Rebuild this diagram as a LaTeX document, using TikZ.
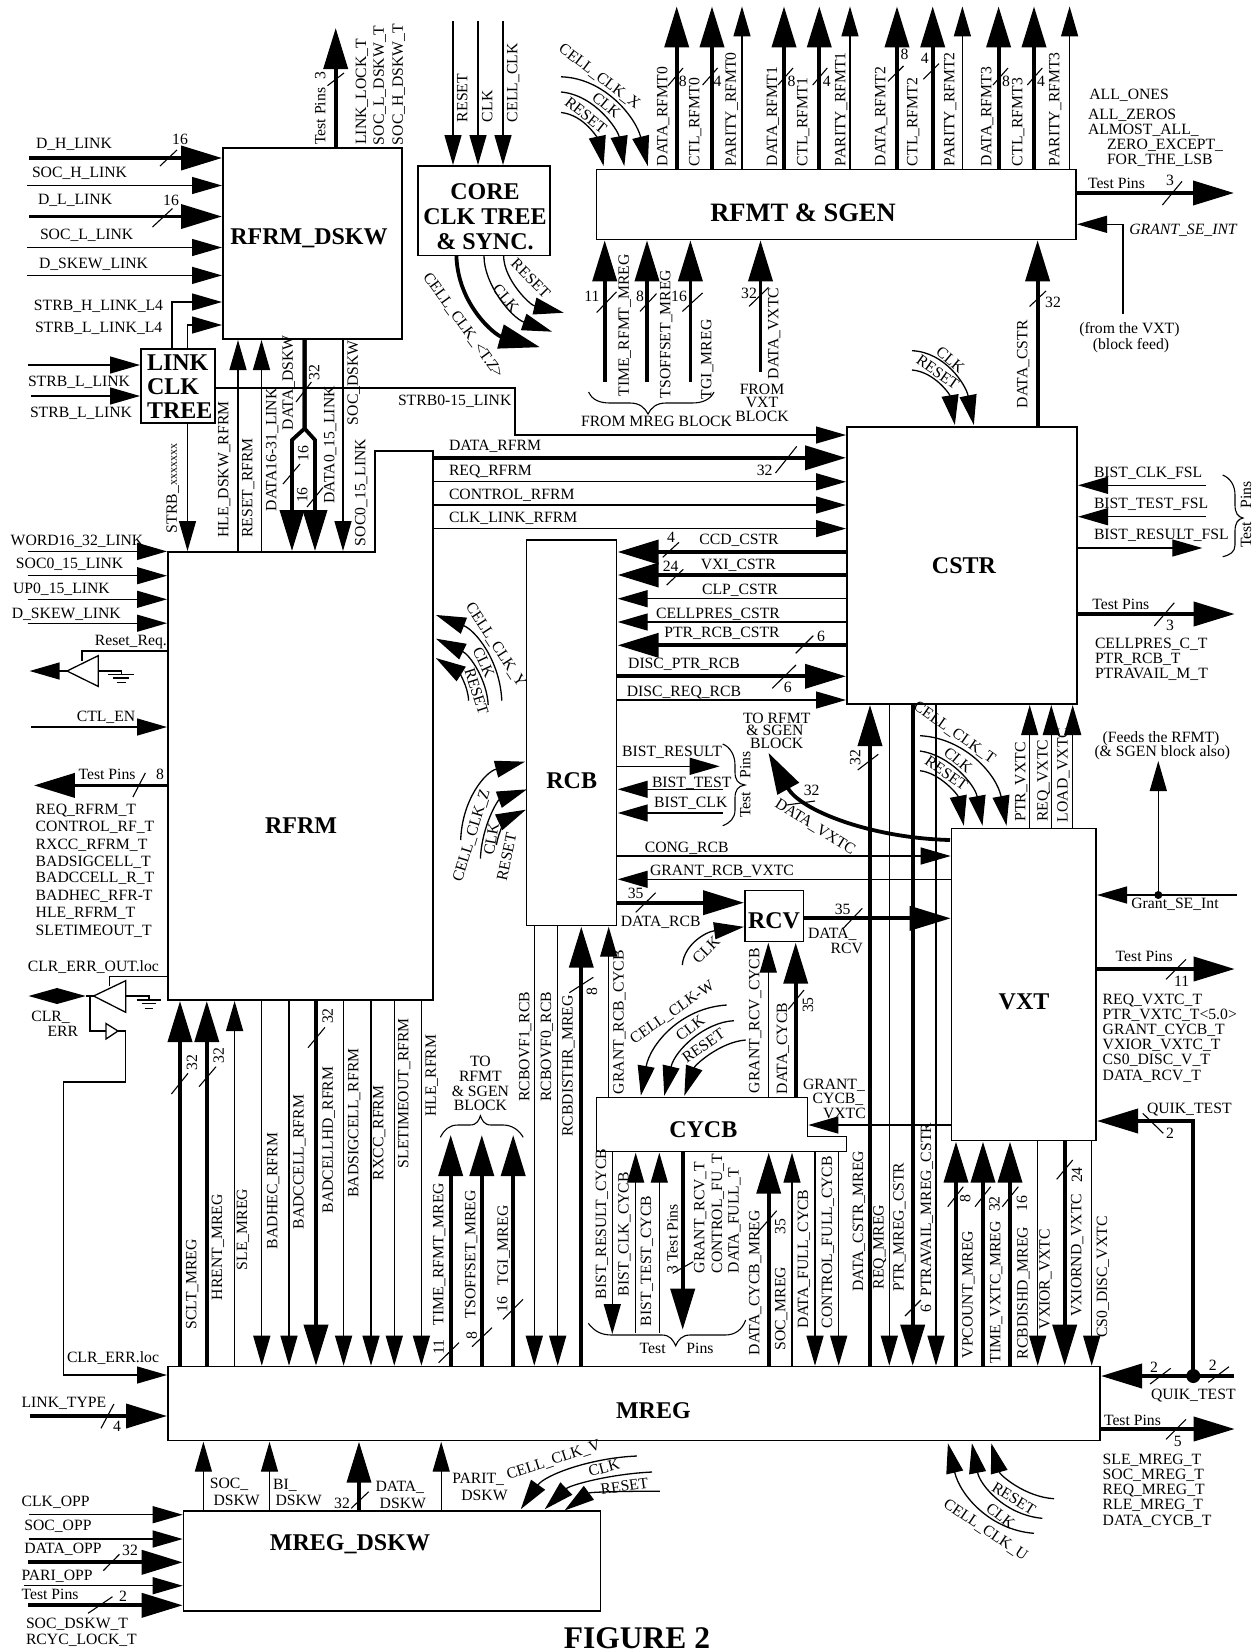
\documentclass[tikz,border=0pt]{standalone}
\usepackage{fontspec}
\setmainfont{Liberation Serif}
\usetikzlibrary{arrows.meta,fit}
\newcounter{tn}
\tikzset{
  x=1pt,y=-1pt,
  lbl/.style={font=\fontsize{15.7}{16}\selectfont,inner sep=0pt,outer sep=0pt},
  ttlb/.style={font=\fontsize{24}{24}\selectfont\bfseries,inner sep=0pt,outer sep=0pt},
  blockbox/.style={draw=black,fill=white,line width=1.4pt,inner sep=0pt,outer sep=0pt},
  ghost/.style={inner sep=0pt,outer sep=0pt},
  sig/.style={line width=1.3pt,-{Triangle[length=30pt,width=17pt]},shorten >=1pt},
  bus/.style={line width=3.8pt,-{Triangle[length=41pt,width=24pt]},shorten >=1pt},
  sigline/.style={line width=1.3pt},
  busline/.style={line width=3.8pt},
  tick/.style={line width=1.1pt},
  logic/.style={draw=black,fill=white,line width=1.3pt},
}
\newcommand\dn[1]{\raisebox{-3.1pt}{#1}}
\newcommand\dnb[1]{\raisebox{-5.8pt}{#1}}
\newcommand\lbL[3]{\stepcounter{tn}\node[lbl,anchor=mid west] (t\arabic{tn}) at (#1,#2) {\dn{#3}};}
\newcommand\lbRt[3]{\stepcounter{tn}\node[lbl,anchor=mid east] (t\arabic{tn}) at (#1,#2) {\dn{#3}};}
\newcommand\lbC[3]{\stepcounter{tn}\node[lbl,anchor=mid] (t\arabic{tn}) at (#1,#2) {\dn{#3}};}
\newcommand\lbV[3]{\stepcounter{tn}\node[lbl,rotate=90,anchor=mid west] (t\arabic{tn}) at (#1,#2) {\dn{#3}};}
\newcommand\lbR[4]{\stepcounter{tn}\node[lbl,rotate=#3,anchor=mid] (t\arabic{tn}) at (#1,#2) {\dn{#4}};}
\newcommand\ttl[3]{\stepcounter{tn}\node[ttlb,anchor=mid] (t\arabic{tn}) at (#1,#2) {\dnb{#3}};}
\newcommand\blk[5]{\node[blockbox,fit={(#2,#3)(#4,#5)}] (#1) {};}
% vertical / horizontal connectors between blocks, or from / to a named free end
\newcommand\vcon[4]{\draw[#1] (#2,0 |- #3) -- (#2,0 |- #4);}
\newcommand\vin[4]{\stepcounter{tn}\coordinate (f\arabic{tn}) at (#2,#3);\draw[#1] (f\arabic{tn}) -- (#2,0 |- #4);}
\newcommand\vout[4]{\stepcounter{tn}\coordinate (f\arabic{tn}) at (#2,#4);\draw[#1] (#2,0 |- #3) -- (f\arabic{tn});}
\newcommand\hcon[4]{\draw[#1] (#3 |- 0,#2) -- (#4 |- 0,#2);}
\newcommand\hin[4]{\stepcounter{tn}\coordinate (f\arabic{tn}) at (#3,#2);\draw[#1] (f\arabic{tn}) -- (#4 |- 0,#2);}
\newcommand\hout[4]{\stepcounter{tn}\coordinate (f\arabic{tn}) at (#4,#2);\draw[#1] (#3 |- 0,#2) -- (f\arabic{tn});}
\newcommand\arcc[5]{\stepcounter{tn}\coordinate (a\arabic{tn}) at (#2);\coordinate (b\arabic{tn}) at (#5);\draw[#1] (a\arabic{tn}) .. controls (#3) and (#4) .. (b\arabic{tn});}
\newcommand\tk[2]{\draw[tick] (#1) -- (#2);}
\begin{document}
\begin{tikzpicture}
\useasboundingbox (0,0) rectangle (1258,1650);
\fill[white] (0,0) rectangle (1258,1650);

%% ---------- blocks ----------
\blk{dskw}{223}{148}{402}{339}
\blk{tree}{141}{349}{215}{423}
\blk{core}{418}{166}{550}{255.4}
\blk{rfmt}{596.7}{169.6}{1076}{239.3}
\blk{cstr}{847}{427}{1077}{704}
\blk{rcb}{526.7}{540}{616.7}{925.7}
\blk{rcv}{745}{890.7}{803.5}{941.7}
\blk{vxt}{951.7}{828.3}{1096}{1140.7}
\blk{mreg}{168}{1366.7}{1100}{1440.7}
\blk{mdskw}{183.7}{1511}{600.6}{1611}
\node[ghost,fit={(168,451)(433,1000)}] (rfrm) {};
\draw[blockbox] (168,552) -- (375,552) -- (375,451) -- (433,451) -- (433,1000) -- (168,1000) -- cycle;
\coordinate (rfrmN) at (168,552);
\node[ghost,fit={(596.7,1097.3)(846.7,1151.7)}] (cycb) {};
\draw[blockbox] (596.7,1097.3) -- (807.3,1097.3) -- (807.3,1136.7) -- (846.7,1136.7) -- (846.7,1151.7) -- (596.7,1151.7) -- cycle;
\coordinate (cycbS) at (807.3,1125);

\ttl{309}{236}{RFRM\_DSKW}
\ttl{485}{191}{CORE}
\ttl{485}{216}{CLK TREE}
\ttl{485}{241}{\& SYNC.}
\stepcounter{tn}\node[ttlb,font=\fontsize{26.5}{26}\selectfont\bfseries,anchor=mid] (t\arabic{tn}) at (803,212.5) {\raisebox{-6.5pt}{RFMT \& SGEN}};
\ttl{964}{565}{CSTR}
\ttl{301}{825}{RFRM}
\ttl{571.7}{780}{RCB}
\ttl{774}{920}{RCV}
\ttl{1024}{1001.7}{VXT}
\ttl{703.3}{1129}{CYCB}
\ttl{653.4}{1410}{MREG}
\ttl{350}{1542.7}{MREG\_DSKW}
\stepcounter{tn}\node[ttlb,anchor=mid west] (t\arabic{tn}) at (147,362.5) {\dnb{LINK}};
\stepcounter{tn}\node[ttlb,anchor=mid west] (t\arabic{tn}) at (147,386) {\dnb{CLK}};
\stepcounter{tn}\node[ttlb,anchor=mid west] (t\arabic{tn}) at (147,410) {\dnb{TREE}};
\stepcounter{tn}\node[ttlb,font=\fontsize{31.5}{30}\selectfont\bfseries,anchor=base] (t\arabic{tn}) at (637,1648.5) {FIGURE 2};

%% ---------- RFRM_DSKW inputs ----------
\hin{bus}{158}{29}{dskw.west}
\hin{sig}{185.5}{27}{dskw.west}
\hin{bus}{216.5}{29}{dskw.west}
\hin{sig}{247.5}{27}{dskw.west}
\hin{sig}{275.4}{27}{dskw.west}
\lbL{36}{143}{D\_H\_LINK}
\lbC{180}{139}{16}
\tk{160,166}{177,150}
\lbL{32}{172}{SOC\_H\_LINK}
\lbL{38}{199}{D\_L\_LINK}
\lbC{171}{200}{16}
\tk{152.5,227}{172.5,208.5}
\lbL{40}{234}{SOC\_L\_LINK}
\lbL{39}{263.5}{D\_SKEW\_LINK}
\lbL{34}{304.6}{STRB\_H\_LINK\_L4}
\lbL{35}{327}{STRB\_L\_LINK\_L4}
\draw[sig] (172,0 |- tree.north) -- (172,302) -- (dskw.west |- 0,302);
\draw[sig] (187.5,0 |- tree.north) -- (187.5,325) -- (dskw.west |- 0,325);
\hin{sig}{365}{28}{tree.west}
\hin{sig}{396}{31}{tree.west}
\lbL{28}{381}{STRB\_L\_LINK}
\lbL{30}{412}{STRB\_L\_LINK}
\draw[sig] (tree.east |- 0,388) -- (515,388) -- (515,435) -- (cstr.west |- 0,435);
\lbL{398}{400}{STRB0-15\_LINK}
\vcon{sig}{187.5}{tree.south}{rfrmN}

%% ---------- RFRM_DSKW <-> RFRM ----------
\vcon{sig}{238}{rfrmN}{dskw.south}
\vcon{sig}{261.5}{rfrmN}{dskw.south}
\draw[bus] (304.6,0 |- dskw.south) -- (304.6,428.5) -- (292,440) -- (292,0 |- rfrmN);
\draw[bus] (304.6,0 |- dskw.south) -- (304.6,428.5) -- (315,440) -- (315,0 |- rfrmN);
\vcon{sig}{343}{dskw.south}{rfrmN}
\tk{296,402}{311.4,382}
\lbR{314}{372.5}{90}{32}
\lbR{303}{453.6}{90}{16}
\tk{283,484}{300,464}
\lbR{302}{495}{90}{16}
\tk{307,507}{323,487.5}
\lbV{171.4}{533}{STRB\_{\fontsize{12}{12}\selectfont xxxxxxx}}
\lbV{223}{537.5}{HLE\_DSKW\_RFRM}
\lbV{247}{537.5}{RESET\_RFRM}
\lbV{271}{511}{DATA16-31\_LINK}
\lbV{287.5}{430}{DATA\_DSKW}
\lbV{329}{503.6}{DATA0\_15\_LINK}
\lbV{352.5}{425}{SOC\_DSKW}
\lbV{360}{546}{SOC0\_15\_LINK}

%% ---------- top of RFRM_DSKW ----------
\vout{bus}{335.7}{dskw.north}{27}
\tk{327.5,85.7}{344,73}
\lbV{320}{144.6}{Test Pins\ \ 3}
\lbV{360.7}{144.6}{LINK\_LOCK\_T}
\lbV{378.6}{145}{SOC\_L\_DSKW\_T}
\lbV{397.5}{145}{SOC\_H\_DSKW\_T}

%% ---------- CORE CLK TREE ----------
\vin{sig}{453}{21}{core.north}
\vin{sig}{478}{21}{core.north}
\vin{sig}{503}{21}{core.north}
\lbV{462}{122}{RESET}
\lbV{487}{122}{CLK}
\lbV{512}{122}{CELL\_CLK}
\arcc{bus}{456.4,256}{458,305}{495,335}{541,347.5}
\arcc{sig}{484,256}{484,285}{512,318}{553,332}
\arcc{sig}{503.6,256}{504,280}{530,305}{564.7,313}
\lbR{464}{325}{-54}{CELL\_CLK\_<T.Z>}
\lbR{506}{298}{-50}{CLK}
\lbR{531}{278}{-45}{RESET}

%% ---------- RFMT outputs ----------
\vout{bus}{676.7}{rfmt.north}{5.4}
\vout{bus}{712}{rfmt.north}{5.4}
\vout{sig}{742}{rfmt.north}{5.4}
\vout{bus}{784}{rfmt.north}{5.4}
\vout{bus}{819.3}{rfmt.north}{5.4}
\vout{sig}{850}{rfmt.north}{5.4}
\vout{bus}{897}{rfmt.north}{5.4}
\vout{bus}{932.7}{rfmt.north}{5.4}
\vout{sig}{962.4}{rfmt.north}{5.4}
\vout{bus}{998.6}{rfmt.north}{5.4}
\vout{bus}{1034}{rfmt.north}{5.4}
\vout{sig}{1069.6}{rfmt.north}{5.4}
\lbV{662}{166}{DATA\_RFMT0}
\lbV{694}{166}{CTL\_RFMT0}
\lbV{730.4}{166}{PARITY\_RFMT0}
\lbV{771.8}{166}{DATA\_RFMT1}
\lbV{802}{166}{CTL\_RFMT1}
\lbV{840}{166}{PARITY\_RFMT1}
\lbV{880}{166}{DATA\_RFMT2}
\lbV{912}{166}{CTL\_RFMT2}
\lbV{949}{166}{PARITY\_RFMT2}
\lbV{986}{166}{DATA\_RFMT3}
\lbV{1017}{166}{CTL\_RFMT3}
\lbV{1054}{166}{PARITY\_RFMT3}
\lbC{682.8}{80.7}{8} \tk{668,85.7}{683,68}
\lbC{717.6}{80.7}{4} \tk{702.6,85}{717.6,68}
\lbC{791.5}{80.7}{8} \tk{778,85}{793,68}
\lbC{826.8}{80.7}{4} \tk{812.7,85}{827.3,68}
\lbC{904.5}{54.6}{8} \tk{888,81.4}{903.5,66}
\lbC{924.7}{58}{4} \tk{923.3,79.3}{939,63.6}
\lbC{1006}{80.7}{8} \tk{993,85}{1008,68}
\lbC{1041}{80.7}{4} \tk{1027.3,85}{1042.3,68}
\arcc{sig}{561,76.8}{605,78}{636,118}{648,167}
\arcc{sig}{561,92}{595,95}{618,130}{624.5,167}
\arcc{sig}{561,112.5}{585,115}{598,140}{603.8,167}
\lbR{600}{76}{-37}{CELL\_CLK\_X}
\lbR{606.6}{105}{-40}{CLK}
\lbR{586}{115}{-38}{RESET}

%% ---------- RFMT inputs ----------
\vin{bus}{604.7}{382}{rfmt.south}
\vin{bus}{647}{382}{rfmt.south}
\vin{bus}{690.4}{382}{rfmt.south}
\vin{bus}{760.5}{372}{rfmt.south}
\lbV{623.5}{396.4}{TIME\_RFMT\_MREG}
\lbV{665}{398}{TSOFFSET\_MREG}
\lbV{706}{399}{TGI\_MREG}
\lbV{773}{379}{DATA\_VXTC}
\lbC{592}{296}{11} \tk{596.7,312.5}{616.5,291.8}
\lbC{640}{296}{8} \tk{640,311.4}{656.5,293.6}
\lbC{679}{296}{16} \tk{682.4,311.4}{702.6,292.9}
\lbC{749}{293}{32} \tk{749,306.4}{768.5,287.5}
\lbC{762}{388.6}{FROM}
\lbC{762}{402.5}{VXT}
\lbC{762}{416}{BLOCK}
\lbC{656.5}{421.4}{FROM MREG BLOCK}
\draw[tick] (588.7,392) .. controls (592,400) and (600,403) .. (610,403) -- (630,403) .. controls (640,403) and (645,408) .. (648,414) .. controls (651,408) and (656,403) .. (666,403) -- (692,403) .. controls (702,403) and (710,400) .. (714,392);
\vcon{bus}{1037.6}{cstr.north}{rfmt.south}
\lbV{1022}{408}{DATA\_CSTR}
\lbC{1053}{302}{32} \tk{1029.6,306.4}{1046,291}

%% ---------- RFMT right ----------
\hout{bus}{193}{rfmt.east}{1235}
\lbL{1088}{183}{Test Pins}
\lbC{1170}{180}{3} \tk{1162.4,205}{1182,181.4}
\stepcounter{tn}\coordinate (f\arabic{tn}) at (1123,314);
\draw[sig] (f\arabic{tn}) -- (1123,224.3) -- (rfmt.east |- 0,224.3);
\lbL{1129.4}{229}{\itshape GRANT\_SE\_INT}
\lbC{1129.4}{328}{(from the VXT)}
\lbC{1131}{344}{(block feed)}
\lbL{1089.4}{94}{ALL\_ONES}
\lbL{1088}{114}{ALL\_ZEROS}
\lbL{1088}{129.6}{ALMOST\_ALL\_}
\lbL{1107}{144.6}{ZERO\_EXCEPT\_}
\lbL{1107}{159}{FOR\_THE\_LSB}

%% ---------- CSTR ----------
\arcc{sig}{912,350.7}{945,352}{966,385}{974,426}
\arcc{sig}{912,370}{935,372}{950,395}{955,426}
\lbR{950.6}{359.6}{-40}{CLK}
\lbR{938}{372}{-35}{RESET}
\hcon{bus}{457.8}{rfrm.east}{cstr.west}
\hcon{sig}{481.8}{rfrm.east}{cstr.west}
\hcon{sig}{505}{rfrm.east}{cstr.west}
\hcon{sig}{528.6}{rfrm.east}{cstr.west}
\lbL{449}{445}{DATA\_RFRM}
\lbL{449}{470}{REQ\_RFRM}
\lbL{449}{494}{CONTROL\_RFRM}
\lbL{449}{516.8}{CLK\_LINK\_RFRM}
\lbC{764.7}{469.6}{32} \tk{775.5,473}{796.7,446.4}

\hcon{bus}{552}{cstr.west}{rcb.east}
\hcon{bus}{575}{cstr.west}{rcb.east}
\hcon{sig}{598.7}{cstr.west}{rcb.east}
\hcon{sig}{622}{cstr.west}{rcb.east}
\hcon{bus}{645.3}{cstr.west}{rcb.east}
\hcon{bus}{676.3}{rcb.east}{cstr.west}
\hcon{sig}{700}{rcb.east}{cstr.west}
\lbC{739}{539}{CCD\_CSTR}
\lbC{671}{537.3}{4} \tk{662.7,557.3}{679,542.3}
\lbC{738.3}{564}{VXI\_CSTR}
\lbC{670.7}{566}{24} \tk{666.7,585}{683.3,569.3}
\lbC{740}{589}{CLP\_CSTR}
\lbC{718}{612.7}{CELLPRES\_CSTR}
\lbC{722}{632}{PTR\_RCB\_CSTR}
\lbC{821}{636}{6} \tk{795.7,653.3}{813.3,635.7}
\lbC{684}{662.7}{DISC\_PTR\_RCB}
\lbC{787.7}{686.7}{6} \tk{772.3,688.3}{796,665}
\lbC{684}{691}{DISC\_REQ\_RCB}

\hin{sig}{485.3}{1206}{cstr.east}
\hin{sig}{516.7}{1206}{cstr.east}
\hout{sig}{548}{cstr.east}{1203.3}
\lbL{1094}{472.3}{BIST\_CLK\_FSL}
\lbL{1094}{502.7}{BIST\_TEST\_FSL}
\lbL{1094}{534}{BIST\_RESULT\_FSL}
\draw[tick] (1222.7,475) .. controls (1230,478) and (1235,485) .. (1235,495) -- (1235,505) .. controls (1235,513) and (1238,517) .. (1243,518) .. controls (1238,519) and (1235,523) .. (1235,531) -- (1235,545) .. controls (1235,552) and (1230,555) .. (1222.7,556.7);
\lbR{1245.7}{495}{90}{Pins}
\lbR{1245.7}{535}{90}{Test}
\hout{bus}{614}{cstr.east}{1235.7}
\lbL{1092.3}{604}{Test Pins}
\lbC{1170}{625}{3} \tk{1154.3,626}{1174.3,602.7}
\lbL{1095}{642.7}{CELLPRES\_C\_T}
\lbL{1095}{657.7}{PTR\_RCB\_T}
\lbL{1095}{672.7}{PTRAVAIL\_M\_T}

%% ---------- RCB side ----------
\lbC{776.7}{717.7}{TO RFMT}
\lbC{775}{730}{\& SGEN}
\lbC{776.7}{742.7}{BLOCK}
\lbC{672}{750.7}{BIST\_RESULT}
\hout{sig}{766.3}{rcb.east}{720.7}
\lbC{691.7}{781.7}{BIST\_TEST}
\hin{sig}{789.3}{722.7}{rcb.east}
\lbC{690.7}{801.7}{BIST\_CLK}
\hin{sig}{813}{722.7}{rcb.east}
\draw[tick] (722.7,744) .. controls (730,747) and (735,755) .. (735,765) -- (735,772) .. controls (735,780) and (738,784) .. (745,785) .. controls (738,786) and (735,790) .. (735,798) -- (735,810) .. controls (735,818) and (730,823) .. (722.7,825.7);
\lbR{745}{765}{90}{Pins}
\lbR{745}{805}{90}{Test}
\arcc{bus}{950,840}{870,838}{800,810}{768,752}
\lbC{811.7}{790}{32} \tk{786.7,805}{815,801}
\lbR{815.7}{826}{-32}{DATA\_VXTC}
\hcon{sig}{856}{rcb.east}{vxt.west}
\lbC{686.7}{846.7}{CONG\_RCB}
\hcon{sig}{879.3}{vxt.west}{rcb.east}
\lbC{722}{870}{GRANT\_RCB\_VXTC}
\hcon{bus}{902.7}{rcb.east}{rcv.west}
\lbC{635.7}{892.7}{35} \tk{635.7,912.3}{655.7,892.7}
\lbC{660.7}{921}{DATA\_RCB}
\hcon{bus}{918.3}{rcv.east}{vxt.west}
\lbC{842.7}{909}{35} \tk{843.3,928.3}{862.3,908.3}
\lbL{808}{933}{DATA\_}
\lbC{846.7}{947.7}{RCV}
\arcc{sig}{682.3,965}{684,945}{705,932}{745,926.7}
\lbR{706}{950}{45}{CLK}

%% ---------- RFRM left ----------
\hin{sig}{551.4}{27.5}{rfrm.west}
\hin{sig}{575.7}{27.5}{rfrm.west}
\hin{sig}{599.3}{27.5}{rfrm.west}
\hin{sig}{623.2}{27.5}{rfrm.west}
\lbL{10.7}{539.6}{WORD16\_32\_LINK}
\lbL{16}{563}{SOC0\_15\_LINK}
\lbL{13}{587.9}{UP0\_15\_LINK}
\lbL{11.8}{612.9}{D\_SKEW\_LINK}
\lbRt{166.8}{639.6}{Reset\_Req.}
\draw[sigline] (rfrm.west |- 0,651) -- (82,651) -- (82,661.4);
\coordinate (bufA) at (67,671);
\coordinate (bufAout) at (28.6,671);
\draw[sig] (bufA) -- (bufAout);
\draw[logic] (bufA) -- (98.2,655.7) -- (98.2,686.4) -- cycle;
\draw[sigline] (98.2,671) -- (121.4,671) -- (121.4,674.6);
\draw[sigline] (108,674.6) -- (134,674.6);
\draw[sigline] (113,678) -- (128.6,678);
\draw[sigline] (116.8,682.5) -- (125.7,682.5);
\hin{sig}{727}{31}{rfrm.west}
\lbL{76.8}{715.7}{CTL\_EN}
\hout{bus}{785.4}{rfrm.west}{32.9}
\lbL{78.6}{774}{Test Pins}
\lbC{160}{773.6}{8} \tk{132.9,797}{145.4,772.9}
\lbL{35.7}{808.6}{REQ\_RFRM\_T}
\lbL{35.7}{826.4}{CONTROL\_RF\_T}
\lbL{35.7}{843.6}{RXCC\_RFRM\_T}
\lbL{35.7}{860.7}{BADSIGCELL\_T}
\lbL{35.7}{877.5}{BADCCELL\_R\_T}
\lbL{35.7}{895.4}{BADHEC\_RFR-T}
\lbL{35.7}{912.5}{HLE\_RFRM\_T}
\lbL{35.7}{929.6}{SLETIMEOUT\_T}

%% CLR_ERR logic
\lbL{27.9}{965.7}{CLR\_ERR\_OUT.loc}
\draw[sigline] (rfrm.west |- 0,976.7) -- (109.6,976.7) -- (109.6,985.7);
\coordinate (bufB) at (93.6,996);
\coordinate (clrpad) at (85.7,996);
\draw[sigline] (bufB) -- (clrpad);
\fill[black] (28.6,996) -- (57,988) -- (clrpad) -- (57,1004) -- cycle;
\draw[logic] (bufB) -- (125.7,980.7) -- (125.7,1012.3) -- cycle;
\draw[sigline] (125.7,996) -- (149,996) -- (149,1000);
\draw[sigline] (136.8,1000) -- (161.4,1000);
\draw[sigline] (142,1003.3) -- (156,1003.3);
\draw[sigline] (144.6,1008.3) -- (152.9,1008.3);
\draw[sigline] (90,996) -- (90,1031) -- (106,1031);
\draw[logic] (106,1023.5) -- (118,1031) -- (106,1039) -- cycle;
\draw[sig] (118,1031) -- (125.7,1031) -- (125.7,1082) -- (63.2,1082) -- (63.2,1375) -- (mreg.west |- 0,1375);
\lbL{31.4}{1015.7}{CLR\_}
\lbL{47.5}{1031}{ERR}
\lbL{67}{1356.7}{CLR\_ERR.loc}

%% ---------- RFRM right arcs ----------
\arcc{sig}{501.8,700.7}{500,660}{475,630}{435,614.6}
\arcc{sig}{488.2,705}{487,680}{470,655}{435,638.2}
\arcc{sig}{468.6,700.7}{468,685}{458,672}{435,657.5}
\lbR{496.4}{644.3}{-57}{CELL\_CLK\_Y}
\lbR{484}{662}{-65}{CLK}
\lbR{476.8}{691.4}{-72}{RESET}
\arcc{sig}{460.7,840}{462,800}{485,772}{526,761.4}
\arcc{sig}{480.4,858.6}{482,825}{498,800}{527.9,789}
\arcc{sig}{496.4,845}{498,832}{508,818}{526.8,809.3}
\lbR{470.7}{835.4}{73}{CELL\_CLK\_Z}
\lbR{491}{839}{80}{CLK}
\lbR{506.4}{856.8}{78}{RESET}

%% ---------- between MREG and RFRM ----------
\vcon{bus}{180}{mreg.north}{rfrm.south}
\vcon{bus}{206.8}{mreg.north}{rfrm.south}
\vcon{sig}{234.6}{mreg.north}{rfrm.south}
\vcon{sig}{261.8}{rfrm.south}{mreg.north}
\vcon{sig}{289}{rfrm.south}{mreg.north}
\vcon{bus}{316}{rfrm.south}{mreg.north}
\vcon{sig}{343.6}{rfrm.south}{mreg.north}
\vcon{sig}{371}{rfrm.south}{mreg.north}
\vcon{sig}{394.3}{rfrm.south}{mreg.north}
\vcon{sig}{421.4}{rfrm.south}{mreg.north}
\lbV{191}{1329.3}{SCLT\_MREG}
\lbR{191.8}{1062.7}{90}{32} \tk{171.4,1094}{188,1073.3}
\lbV{216.8}{1300}{HRENT\_MREG}
\lbR{218.6}{1055.7}{90}{32} \tk{199,1086.7}{216,1066.7}
\lbV{241.8}{1270}{SLE\_MREG}
\lbV{272}{1249}{BADHEC\_RFRM}
\lbV{298.2}{1229.3}{BADCCELL\_RFRM}
\lbV{327.5}{1213.3}{BADCELLHD\_RFRM}
\lbR{327.5}{1016}{90}{32} \tk{308,1047.7}{325,1027.3}
\lbV{352.9}{1197.7}{BADSIGCELL\_RFRM}
\lbV{377.9}{1180}{RXCC\_RFRM}
\lbV{402.9}{1168.3}{SLETIMEOUT\_RFRM}
\lbV{430.4}{1116.7}{HLE\_RFRM}

\vout{bus}{450.7}{mreg.north}{1134}
\vout{bus}{481.8}{mreg.north}{1134}
\vout{bus}{513.2}{mreg.north}{1134}
\lbV{438}{1325}{TIME\_RFMT\_MREG}
\lbR{438.6}{1347}{90}{11} \tk{438.6,1362.7}{459,1342.7}
\lbV{470}{1318.3}{TSOFFSET\_MREG}
\lbR{471.4}{1335.7}{90}{8} \tk{472,1346.7}{492,1327.7}
\lbV{502.5}{1285}{TGI\_MREG}
\lbR{502}{1304.3}{90}{16} \tk{503,1319.3}{523,1299.3}
\lbC{480.4}{1060.7}{TO}
\lbC{480.4}{1076}{RFMT}
\lbC{480.4}{1090.7}{\& SGEN}
\lbC{480.4}{1105}{BLOCK}
\draw[tick] (440.4,1137.3) .. controls (444,1130) and (449,1125) .. (458,1125) -- (470,1125) .. controls (477,1125) and (479,1120) .. (480.4,1115.7) .. controls (482,1120) and (484,1125) .. (491,1125) -- (503,1125) .. controls (512,1125) and (519,1130) .. (523.2,1137.3);

%% ---------- RCB / CYCB / MREG ----------
\vcon{sig}{534.3}{rcb.south}{mreg.north}
\vcon{sig}{557.7}{rcb.south}{mreg.north}
\vcon{bus}{581.3}{mreg.north}{rcb.south}
\vcon{sig}{608.7}{cycb.north}{rcb.south}
\lbV{524}{1101.7}{RCBOVF1\_RCB}
\lbV{545.7}{1101.7}{RCBOVF0\_RCB}
\lbV{567.3}{1136.7}{RCBDISTHR\_MREG}
\lbR{591.7}{991.7}{90}{8} \tk{569.3,992.7}{593.3,977.3}
\lbV{618.3}{1094}{GRANT\_RCB\_CYCB}
\vcon{sig}{768.3}{cycb.north}{rcv.south}
\vcon{bus}{795.7}{cycb.north}{rcv.south}
\lbV{754}{1093}{GRANT\_RCV\_CYCB}
\lbV{781.7}{1094}{DATA\_CYCB}
\lbR{807.7}{1005}{90}{35} \tk{788.3,1009.3}{804,990}
\arcc{sig}{726.7,1005}{680,1008}{650,1045}{640.7,1096.7}
\arcc{sig}{734,1020.7}{705,1022}{675,1050}{664,1096.7}
\arcc{sig}{745.7,1040}{720,1042}{695,1065}{684,1096.7}
\lbR{671.7}{1011.7}{35}{CELL\_CLK-W}
\lbR{690}{1028}{38}{CLK}
\lbR{703.3}{1045.7}{35}{RESET}
\hin{sigline}{1125}{951.7}{vxt.west}
\draw[sig] (vxt.west |- cycbS) -- (cycbS);
\lbL{803}{1084}{GRANT\_}
\lbL{812.7}{1098}{CYCB\_}
\lbL{823}{1113}{VXTC}

\vout{sig}{612.3}{cycb.south}{1335}
\vin{sig}{635.7}{1332.7}{cycb.south}
\vin{sig}{659.3}{1332.7}{cycb.south}
\vout{bus}{682.7}{cycb.south}{1330.7}
\tk{672.7,1273.3}{693.3,1261.7}
\lbV{600.7}{1299.3}{BIST\_RESULT\_CYCB}
\lbV{623.3}{1296}{BIST\_CLK\_CYCB}
\lbV{645.7}{1326}{BIST\_TEST\_CYCB}
\lbV{672.3}{1273.3}{3 Test Pins}
\lbV{699}{1273.3}{GRANT\_RCV\_T}
\lbV{716.7}{1273.3}{CONTROL\_FU\_T}
\lbV{733.3}{1273.3}{DATA\_FULL\_T}
\draw[tick] (588.3,1323.3) .. controls (595,1332) and (602,1335) .. (612,1335) -- (662,1335) .. controls (670,1335) and (673,1340) .. (675.7,1345.7) .. controls (678,1340) and (682,1335) .. (690,1335) -- (725,1335) .. controls (735,1335) and (742,1330) .. (745.7,1320);
\lbC{652.7}{1347.7}{Test}
\lbC{700}{1347.7}{Pins}
\vcon{bus}{768.7}{mreg.north}{cycb.south}
\vcon{sig}{792}{mreg.north}{cycb.south}
\vcon{sig}{815}{cycb.south}{mreg.north}
\vcon{sig}{838.7}{cycb.south}{mreg.north}
\lbV{754}{1355}{DATA\_CYCB\_MREG}
\lbR{780}{1226.7}{90}{35} \tk{758.3,1231.7}{776.7,1210.7}
\lbV{780}{1350.7}{SOC\_MREG}
\lbV{802.7}{1328}{DATA\_FULL\_CYCB}
\lbV{826.7}{1328}{CONTROL\_FULL\_CYCB}

%% ---------- MREG / CSTR ----------
\vcon{bus}{870}{mreg.north}{cstr.south}
\lbR{855}{757.7}{90}{32} \tk{857.7,770}{878.3,754.3}
\lbV{857.7}{1291.7}{DATA\_CSTR\_MREG}
\vcon{sig}{889.3}{cstr.south}{mreg.north}
\vcon{bus}{912.7}{cstr.south}{mreg.north}
\vcon{sig}{936}{cstr.south}{mreg.north}
\lbV{878.3}{1289.3}{REQ\_MREG}
\lbV{898.3}{1291.7}{PTR\_MREG\_CSTR}
\lbV{925.7}{1296.7}{PTRAVAIL\_MREG\_CSTR}
\lbR{925.7}{1309}{90}{6} \tk{905,1316}{921,1300}

%% ---------- VXT ----------
\arcc{sig}{920,735.7}{965,738}{997,775}{1006.7,826.7}
\arcc{sig}{920,751}{950,755}{975,785}{982.7,826.7}
\arcc{sig}{920,770.7}{940,773}{958,795}{964,826.7}
\lbR{955}{731.7}{-35}{CELL\_CLK\_T}
\lbR{958.3}{760}{-40}{CLK}
\lbR{946.7}{773.3}{-35}{RESET}
\vcon{sig}{1029.7}{vxt.north}{cstr.south}
\vcon{sig}{1051.3}{vxt.north}{cstr.south}
\vcon{sig}{1072.7}{vxt.north}{cstr.south}
\lbV{1020}{821.7}{PTR\_VXTC}
\lbV{1042.3}{821.7}{REQ\_VXTC}
\lbV{1062.3}{822}{LOAD\_VXTC}
\lbC{1161}{736.7}{(Feeds the RFMT)}
\lbC{1162.3}{751}{(\& SGEN block also)}
\coordinate (grantdot) at (1158.3,895);
\hin{sig}{895}{1236.7}{vxt.east}
\stepcounter{tn}\coordinate (f\arabic{tn}) at (1158.3,760);
\draw[sig] (grantdot) -- (f\arabic{tn});
\fill[black] (grantdot) circle (4);
\lbC{1175}{903.3}{Grant\_SE\_Int}
\hout{bus}{969}{vxt.east}{1235.7}
\lbL{1115.7}{955.7}{Test Pins}
\lbC{1181.7}{980.7}{11} \tk{1166,979.3}{1186,959.3}
\lbL{1102.7}{999}{REQ\_VXTC\_T}
\lbL{1102.7}{1014}{PTR\_VXTC\_T<5.0>}
\lbL{1102.7}{1029}{GRANT\_CYCB\_T}
\lbL{1102.7}{1044}{VXIOR\_VXTC\_T}
\lbL{1102.7}{1059.3}{CS0\_DISC\_V\_T}
\lbL{1102.7}{1075}{DATA\_RCV\_T}

\coordinate (quikdot) at (1193.3,1376);
\draw[bus] (quikdot) -- (1193.3,1121) -- (vxt.east |- 0,1121);
\hin{bus}{1376}{1234}{mreg.east}
\fill[black] (quikdot) circle (7);
\lbC{1189.3}{1107.7}{QUIK\_TEST}
\lbC{1170}{1132.7}{2} \tk{1142.7,1113.3}{1163.3,1133.3}
\lbC{1154}{1367.3}{2} \tk{1150,1384}{1170.7,1368.3}
\lbC{1212.7}{1365}{2} \tk{1208.3,1382.3}{1229,1366.7}
\lbC{1193.3}{1394}{QUIK\_TEST}

\vcon{bus}{956}{mreg.north}{vxt.south}
\vcon{bus}{983}{mreg.north}{vxt.south}
\vcon{bus}{1010}{mreg.north}{vxt.south}
\vcon{sig}{1037.7}{vxt.south}{mreg.north}
\vcon{bus}{1064.7}{vxt.south}{mreg.north}
\vcon{sig}{1091.7}{vxt.south}{mreg.north}
\lbV{967.3}{1358.3}{VPCOUNT\_MREG}
\lbR{965}{1198.3}{90}{8} \tk{947.7,1206.7}{963.3,1186.7}
\lbV{995}{1363.3}{TIME\_VXTC\_MREG}
\lbR{994.3}{1204}{90}{32} \tk{975,1206.7}{990.7,1186.7}
\lbV{1022.3}{1359.3}{RCBDISHD\_MREG}
\lbR{1021.7}{1203.3}{90}{16} \tk{1002.3,1206.7}{1018.3,1186.7}
\lbV{1044.3}{1329.3}{VXIOR\_VXTC}
\lbV{1076}{1316.7}{VXIORND\_VXTC}
\lbR{1076.7}{1175}{90}{24} \tk{1056.7,1179.3}{1072.7,1160}
\lbV{1101.7}{1337.7}{CS0\_DISC\_VXTC}

%% ---------- MREG ----------
\hin{bus}{1416}{29.8}{mreg.west}
\lbL{21.6}{1401.7}{LINK\_TYPE}
\lbC{117}{1425.7}{4} \tk{101,1428.3}{113.9,1404}
\hout{bus}{1429}{mreg.east}{1235.7}
\lbL{1104}{1420}{Test Pins}
\lbC{1177.7}{1440.7}{5} \tk{1166,1439.3}{1186,1419.3}
\lbL{1102.7}{1459}{SLE\_MREG\_T}
\lbL{1102.7}{1474}{SOC\_MREG\_T}
\lbL{1102.7}{1489}{REQ\_MREG\_T}
\lbL{1102.7}{1504}{RLE\_MREG\_T}
\lbL{1102.7}{1520}{DATA\_CYCB\_T}
\arcc{sig}{1034,1533.3}{990,1530}{960,1495}{947.7,1442.3}
\arcc{sig}{1042.3,1518.3}{1005,1515}{980,1485}{971.7,1442.3}
\arcc{sig}{1054,1498.7}{1025,1497}{1000,1475}{991,1442.3}
\lbR{986}{1529}{-34}{CELL\_CLK\_U}
\lbR{1000.7}{1515.7}{-38}{CLK}
\lbR{1014}{1498.3}{-32}{RESET}

%% ---------- MREG_DSKW ----------
\vcon{sig}{203.4}{mdskw.north}{mreg.south}
\vcon{sig}{269.5}{mdskw.north}{mreg.south}
\vcon{bus}{359}{mdskw.north}{mreg.south}
\vcon{sig}{441.2}{mdskw.north}{mreg.south}
\lbC{342}{1503.3}{32} \tk{351.2,1508.3}{368.7,1491.7}
\lbL{209.8}{1482.7}{SOC\_}
\lbL{213.5}{1500}{DSKW}
\lbL{273.2}{1484}{BI\_}
\lbL{275.5}{1500}{DSKW}
\lbL{375.6}{1486}{DATA\_}
\lbL{379.7}{1503.3}{DSKW}
\lbL{452.3}{1478.3}{PARIT\_}
\lbL{461.4}{1495.3}{DSKW}
\arcc{sig}{636.8,1456}{590,1458}{545,1475}{520.2,1510}
\arcc{sig}{652,1472}{610,1474}{570,1485}{544,1510}
\arcc{sig}{659.8,1491.3}{630,1491}{590,1492}{563.8,1511}
\lbR{553.3}{1459.3}{18}{CELL\_CLK\_V}
\lbR{604}{1467.7}{15}{CLK}
\lbR{624.4}{1486}{8}{RESET}
\hin{sig}{1514.7}{29}{mdskw.west}
\hin{sig}{1539}{29}{mdskw.west}
\hin{bus}{1562.3}{28}{mdskw.west}
\hin{sig}{1585.7}{24}{mdskw.west}
\hin{bus}{1605.3}{28}{mdskw.west}
\lbL{21.6}{1501}{CLK\_OPP}
\lbL{24.3}{1525}{SOC\_OPP}
\lbL{24.3}{1548}{DATA\_OPP}
\lbC{130}{1550}{32} \tk{103.3,1570.7}{119.4,1554.3}
\lbL{21.6}{1575}{PARI\_OPP}
\lbL{21.6}{1594.3}{Test Pins}
\lbC{123}{1596}{2} \tk{88,1613.3}{112.5,1596.7}
\lbL{26}{1622.7}{SOC\_DSKW\_T}
\lbL{26}{1639}{RCYC\_LOCK\_T}
\end{tikzpicture}
\end{document}
